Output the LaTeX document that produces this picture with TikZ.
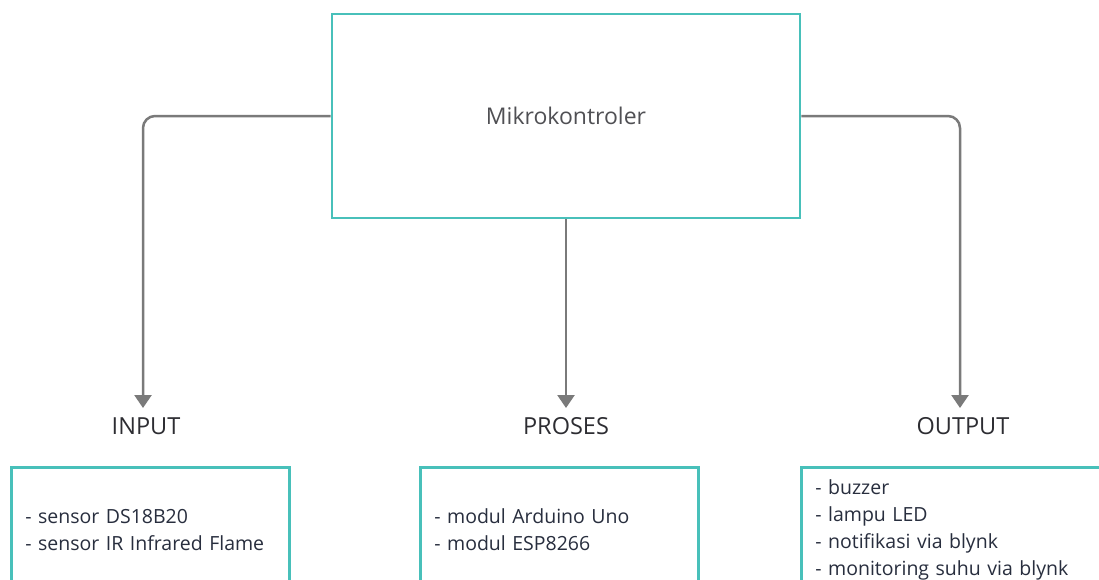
\documentclass[tikz,border=0pt]{standalone}
\usepackage{fontspec}
\setmainfont{Open Sans}
\usetikzlibrary{arrows.meta}
\definecolor{teal1}{RGB}{72,192,186}
\definecolor{conngray}{RGB}{122,122,122}
\definecolor{labtext}{RGB}{45,45,50}
\definecolor{mktext}{RGB}{80,80,84}
\definecolor{listtext}{RGB}{40,46,62}
\tikzset{
  mainbox/.style={draw=teal1, line width=2.7pt, fill=white, minimum width=468pt, minimum height=204pt, inner sep=0pt, text=mktext, font=\fontsize{23}{27}\selectfont},
  listbox/.style={draw=teal1, line width=2.7pt, fill=white, minimum height=125pt, inner xsep=14pt, inner ysep=0pt, align=left, text=listtext, font=\fontsize{19.5}{27}\selectfont, anchor=north west},
  lab/.style={inner sep=0pt, text=labtext, font=\fontsize{23.5}{28}\selectfont},
  conn/.style={draw=conngray, line width=2.5pt, rounded corners=12pt, -{Triangle[width=17pt,length=13pt]}}
}
\begin{document}
\begin{tikzpicture}[x=1pt,y=-1pt]
\clip (0,0) rectangle (1099,579);
\fill[white] (0,0) rectangle (1099,579);
\node[mainbox] (mk) at (566,116) {Mikrokontroler};
\node[lab] (inlab) at (146,426) {INPUT};
\node[lab] (prlab) at (566,426) {PROSES};
\node[lab] (outlab) at (963,426) {OUTPUT};
\coordinate (inend) at (143,408);
\coordinate (prend) at (566,408);
\coordinate (outend) at (960,408);
\draw[conn] (mk.west) -| (inend);
\draw[conn] (mk.south) -- (prend);
\draw[conn] (mk.east) -| (outend);
\node[listbox, text width=250pt] (inbox) at (10,466) {- sensor DS18B20\\- sensor IR Infrared Flame};
\node[listbox, text width=250pt] (prbox) at (419,466) {- modul Arduino Uno\\- modul ESP8266};
\node[listbox, text width=292pt] (outbox) at (800,466) {- buzzer\\- lampu LED\\- notifikasi via blynk\\- monitoring suhu via blynk};
\end{tikzpicture}
\end{document}
